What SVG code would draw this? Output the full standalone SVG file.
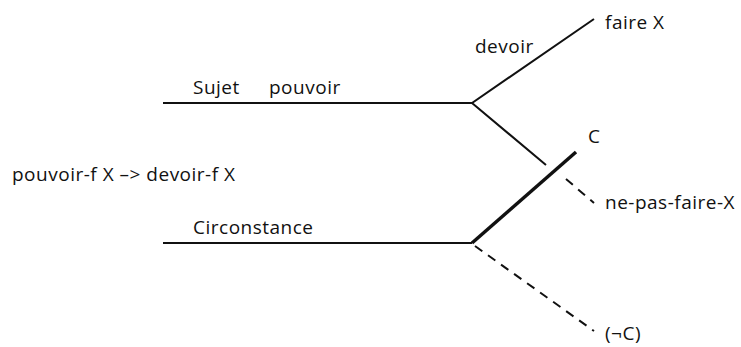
<svg xmlns="http://www.w3.org/2000/svg" width="741" height="347" viewBox="0 0 741 347">
  <style>
    text { font-family: "Open Sans", "Liberation Sans", sans-serif; font-size: 19px; letter-spacing: 0.5px; fill: #111; }
    .ln { stroke: #111; stroke-width: 2; fill: none; }
    .thick { stroke: #111; stroke-width: 3.5; fill: none; }
    .dash { stroke: #111; stroke-width: 2; fill: none; stroke-dasharray: 9 7; }
  </style>
  <rect width="741" height="347" fill="#fff"/>
  <g id="connectors">
    <path class="ln" d="M163 103 H472 L594 19 M472 103 L546 165"/>
    <path class="ln" d="M163 243 H472"/>
    <path class="thick" d="M472 243 L576 152"/>
    <path class="dash" d="M566 179 L594 203"/>
    <path class="dash" d="M475 246 L594 331"/>
  </g>
  <g id="labels">
    <text x="193" y="94">Sujet</text>
    <text x="269" y="94">pouvoir</text>
    <text x="475" y="53">devoir</text>
    <text x="605" y="29">faire X</text>
    <text x="588" y="143">C</text>
    <text x="12" y="181">pouvoir-f X –&gt; devoir-f X</text>
    <text x="605" y="209">ne-pas-faire-X</text>
    <text x="193" y="234">Circonstance</text>
    <text x="605" y="340">(¬C)</text>
  </g>
</svg>
